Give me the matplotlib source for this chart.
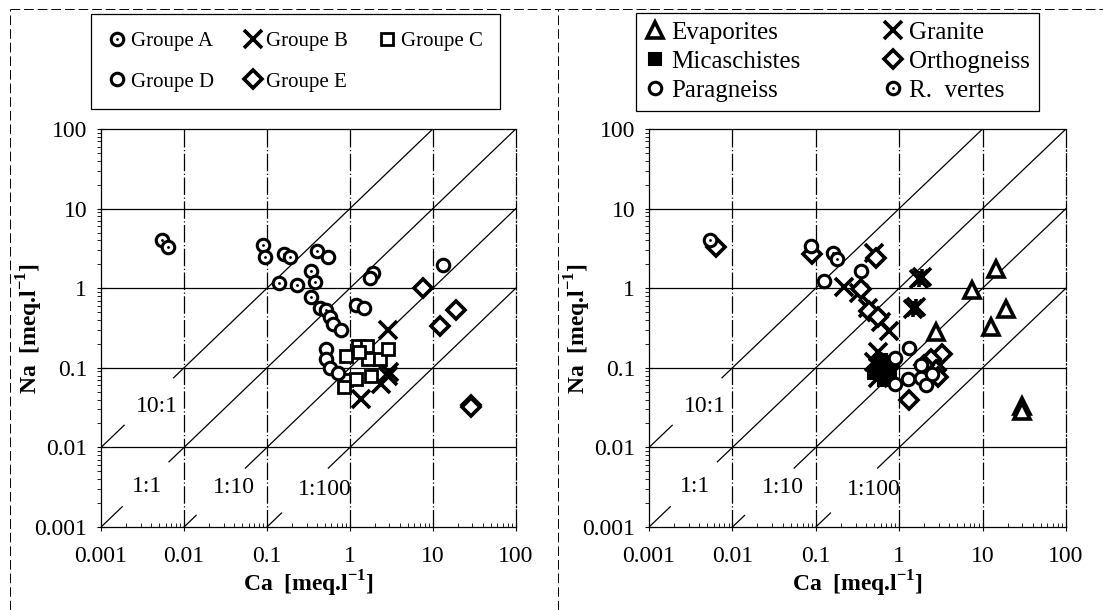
import matplotlib
matplotlib.use('Agg')
import matplotlib.pyplot as plt
import numpy as np
from matplotlib.lines import Line2D
from matplotlib.legend_handler import HandlerTuple

plt.rcParams['font.family'] = ['Liberation Serif', 'DejaVu Serif']
plt.rcParams['mathtext.fontset'] = 'custom'
plt.rcParams['mathtext.rm'] = 'Liberation Serif'
plt.rcParams['mathtext.bf'] = 'Liberation Serif:bold'

# ---- données : panneau gauche (groupes) ----
grpA_ca = [0.0054, 0.0064, 0.09, 0.095, 0.16, 0.19, 0.40, 0.14, 0.23, 0.34, 0.38, 0.34, 0.44, 0.52]
grpA_na = [4.0, 3.3, 3.5, 2.5, 2.7, 2.5, 2.9, 1.17, 1.1, 1.66, 1.2, 0.78, 0.56, 0.53]
grpB_ca = [2.9, 1.38, 2.9, 3.0, 2.4]
grpB_na = [0.30, 0.041, 0.078, 0.088, 0.062]
grpC_ca = [0.91, 1.26, 1.6, 1.66, 2.3, 2.9, 1.3, 0.91, 1.2, 1.82, 0.85]
grpC_na = [0.14, 0.19, 0.19, 0.13, 0.13, 0.17, 0.16, 0.07, 0.072, 0.078, 0.058]
grpD_ca = [0.55, 1.9, 1.74, 13.3, 0.57, 0.63, 0.79, 1.2, 1.5, 0.52, 0.52, 0.58, 0.72]
grpD_na = [2.5, 1.54, 1.33, 1.95, 0.44, 0.36, 0.30, 0.62, 0.56, 0.17, 0.13, 0.099, 0.085]
grpE_ca = [7.6, 18.9, 12.1, 29, 29]
grpE_na = [1.0, 0.54, 0.335, 0.034, 0.032]

# ---- données : panneau droit (lithologies) ----
evap_ca = [2.8, 7.5, 14.5, 19, 12.5, 30, 30]
evap_na = [0.28, 0.95, 1.75, 0.55, 0.33, 0.033, 0.029]
gran_ca = [0.5, 0.22, 0.33, 0.42, 0.61, 0.75, 0.55, 1.9, 1.75, 1.45, 1.6, 0.5, 0.6, 0.72, 0.55]
gran_na = [2.8, 1.05, 0.88, 0.57, 0.38, 0.29, 0.16, 1.4, 1.3, 0.55, 0.58, 0.12, 0.095, 0.08, 0.075]
mica_ca = [0.55, 0.62, 0.7, 0.78, 0.5, 0.65, 0.85, 0.6]
mica_na = [0.1, 0.085, 0.11, 0.09, 0.085, 0.07, 0.12, 0.125]
orth_ca = [0.0064, 0.09, 0.53, 0.35, 0.44, 0.55, 3.3, 2.4, 2.8, 2.9, 1.32, 2.0]
orth_na = [3.3, 2.66, 2.4, 0.97, 0.52, 0.43, 0.148, 0.13, 0.094, 0.076, 0.040, 0.11]
para_ca = [0.087, 0.126, 0.35, 0.88, 1.32, 0.88, 1.27, 1.83, 2.1, 2.5, 1.84]
para_na = [3.4, 1.23, 1.64, 0.134, 0.18, 0.062, 0.072, 0.075, 0.06, 0.083, 0.11]
rver_ca = [0.0054, 0.16, 0.18]
rver_na = [4.0, 2.8, 2.3]

# droites de rapport Na/Ca et leurs interruptions (pour les étiquettes)
ratios = [10, 1, 0.1, 0.01]
ratio_breaks = [(0.0019, 0.0075), (0.0018, 0.0066), (0.014, 0.055), (0.15, 0.55)]
ratio_labels = ['10:1', '1:1', '1:10', '1:100']
label_pos = [(0.0047, 0.033), (0.0036, 0.0032), (0.040, 0.0031), (0.50, 0.0030)]

decades = [0.001, 0.01, 0.1, 1, 10, 100]
dec_labels = ['0.001', '0.01', '0.1', '1', '10', '100']

fig = plt.figure(figsize=(11.03, 6.10), dpi=100)
ax1 = fig.add_axes([0.0916, 0.136, 0.376, 0.6525])
ax2 = fig.add_axes([0.5884, 0.136, 0.378, 0.6525])


def setup(ax):
    ax.set_xscale('log')
    ax.set_yscale('log')
    ax.set_xlim(1e-3, 1e2)
    ax.set_ylim(1e-3, 1e2)
    ax.set_xticks(decades)
    ax.set_xticklabels(dec_labels)
    ax.set_yticks(decades)
    ax.set_yticklabels(dec_labels)
    ax.tick_params(labelsize=17)
    ax.tick_params(axis='x', which='major', direction='inout', length=6, top=False, pad=11)
    ax.tick_params(axis='x', which='minor', direction='in', length=3, top=False)
    ax.tick_params(axis='y', which='major', direction='inout', length=6, right=False, pad=7)
    ax.tick_params(axis='y', which='minor', direction='out', length=3, right=False)
    # grille
    for d in decades[1:-1]:
        ax.axhline(d, color='k', lw=0.9, zorder=1)
        ax.axvline(d, color='k', lw=0.9, ls=(0, (14, 2, 1, 2)), zorder=1)
    ax.spines['right'].set_linestyle((0, (14, 2, 1, 2)))
    for s in ax.spines.values():
        s.set_linewidth(0.9)
    # droites de rapport
    for r, (b0, b1) in zip(ratios, ratio_breaks):
        x0 = max(1e-3, 1e-3 / r)
        xa = np.array([x0, b0])
        xb = np.array([b1, 100.0])
        ax.plot(xa, r * xa, color='k', lw=0.9, zorder=2)
        ax.plot(xb, r * xb, color='k', lw=0.9, zorder=2)
    for txt, (lx, ly) in zip(ratio_labels, label_pos):
        ax.text(lx, ly, txt, ha='center', va='center', fontsize=17)
    ax.set_xlabel(r'Ca  [meq.l$^{\mathbf{-1}}$]', fontsize=17, fontweight='bold')
    ax.set_ylabel(r'Na  [meq.l$^{\mathbf{-1}}$]', fontsize=17, fontweight='bold')
    ax.xaxis.set_label_coords(0.5, -0.105)
    ax.yaxis.set_label_coords(-0.135, 0.5)


setup(ax1)
setup(ax2)

mk = dict(ls='none', color='k', zorder=5)
open_mk = dict(mfc='white', mec='k', **mk)

# panneau gauche
hA = ax1.plot(grpA_ca, grpA_na, 'o', ms=9, mew=2.2, **open_mk)[0]
hAd = ax1.plot(grpA_ca, grpA_na, '.', ms=2, **mk)[0]
hB = ax1.plot(grpB_ca, grpB_na, 'x', ms=13, mew=2.6, **mk)[0]
hC = ax1.plot(grpC_ca, grpC_na, 's', ms=9, mew=2.0, **open_mk)[0]
hD = ax1.plot(grpD_ca, grpD_na, 'o', ms=9, mew=2.2, **open_mk)[0]
hE = ax1.plot(grpE_ca, grpE_na, 'D', ms=9, mew=2.6, **open_mk)[0]

# panneau droit
gE = ax2.plot(evap_ca, evap_na, '^', ms=11, mew=2.6, **open_mk)[0]
gG = ax2.plot(gran_ca, gran_na, 'x', ms=13, mew=2.6, **mk)[0]
ax2.plot(gran_ca[7:11], gran_na[7:11], '|', ms=12, mew=2.6, **mk)
gM = ax2.plot(mica_ca, mica_na, 's', ms=9, mew=1.5, mfc='k', mec='k', ls='none', zorder=5)[0]
gO = ax2.plot(orth_ca, orth_na, 'D', ms=9, mew=2.6, **open_mk)[0]
gP = ax2.plot(para_ca, para_na, 'o', ms=9, mew=2.2, **open_mk)[0]
gR = ax2.plot(rver_ca, rver_na, 'o', ms=9, mew=2.2, **open_mk)[0]
gRd = ax2.plot(rver_ca, rver_na, '.', ms=2, **mk)[0]

leg_kw = dict(frameon=True, fancybox=False, framealpha=1, edgecolor='k',
              handlelength=0.8, handletextpad=0.25, borderaxespad=0, loc='upper left',
              handler_map={tuple: HandlerTuple(ndivide=1, pad=0)})

# ordre colonne par colonne pour obtenir A B C / D E en lignes
leg1 = fig.legend([(hA, hAd), hD, hB, hE, hC],
                  ['Groupe A', 'Groupe D', 'Groupe B', 'Groupe E', 'Groupe C'],
                  ncol=3, bbox_to_anchor=(0.0825, 0.977, 0.371, 0.0), fontsize=15,
                  mode='expand', labelspacing=1.0, borderpad=0.85, **leg_kw)
leg1.get_frame().set_linewidth(0.9)

leg2 = fig.legend([gE, gM, gP, gG, gO, (gR, gRd)],
                  ['Evaporites', 'Micaschistes', 'Paragneiss', 'Granite', 'Orthogneiss', 'R.  vertes'],
                  ncol=2, bbox_to_anchor=(0.5766, 0.979), fontsize=18,
                  columnspacing=3.3, labelspacing=0.26, borderpad=0.35, **leg_kw)
leg2.get_frame().set_linewidth(0.9)

# cadres pointillés des deux graphiques
frame_kw = dict(transform=fig.transFigure, color='k', lw=0.7, ls=(0, (10, 4)))
fig.add_artist(Line2D([0.009, 0.009], [0.0, 0.985], **frame_kw))
fig.add_artist(Line2D([0.009, 1.0], [0.985, 0.985], **frame_kw))
fig.add_artist(Line2D([0.506, 0.506], [0.0, 0.985], **frame_kw))

fig.savefig('out.png', dpi=100)
